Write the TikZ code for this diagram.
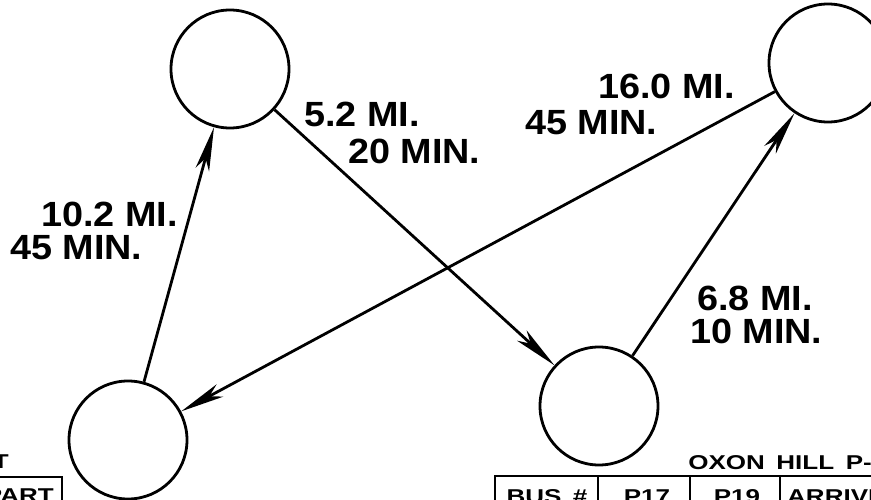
\documentclass[tikz,border=0pt]{standalone}
\usepackage{fontspec}
\setmainfont{Liberation Sans}
\newfontfamily\lblfont{Liberation Sans}[FakeStretch=1.08]
\newfontfamily\tblfont{Liberation Sans}[FakeStretch=1.3,WordSpace=1.6]
\usetikzlibrary{arrows.meta}
\begin{document}
\begin{tikzpicture}[x=1pt,y=-1pt,
  stopnode/.style={circle,draw,line width=2.8pt,minimum size=118pt,inner sep=0pt},
  edge/.style={line width=2.8pt,-{Stealth[length=44pt,width=14pt,inset=12pt]}},
  lbl/.style={font=\lblfont\bfseries\fontsize{35}{35}\selectfont,inner sep=0pt},
  tbltext/.style={font=\tblfont\bfseries\fontsize{20}{20}\selectfont,inner sep=0pt},
  tblline/.style={line width=2pt}]
\useasboundingbox (0,0) rectangle (871,500);
\clip (0,0) rectangle (871,500);
% stops
\node[stopnode] (tl) at (230,69) {};
\node[stopnode] (tr) at (828,63) {};
\node[stopnode] (bl) at (128,440) {};
\node[stopnode] (br) at (599,406) {};
% connectors
\draw[edge] (bl) -- (tl);
\draw[edge] (tl) -- (br);
\draw[edge] (tr) -- (bl);
\draw[edge] (br) -- (tr);
% labels
\node[lbl,anchor=base east] (a1) at (178,226) {10.2 MI.};
\node[lbl,anchor=base west] (a2) at (10,259) {45 MIN.};
\node[lbl,anchor=base west] (b1) at (304,127) {5.2 MI.};
\node[lbl,anchor=base west] (b2) at (348,164) {20 MIN.};
\node[lbl,anchor=base east] (c1) at (735,99) {16.0 MI.};
\node[lbl,anchor=base west] (c2) at (525,135) {45 MIN.};
\node[lbl,anchor=base west] (d1) at (697,310) {6.8 MI.};
\node[lbl,anchor=base west] (d2) at (690,343) {10 MIN.};
% bottom left fragment
\node[tbltext,anchor=base east] (lt) at (9,468) {T};
\draw[tblline] (-5,477) -- (62,477) -- (62,502);
\node[tbltext,anchor=base east] (lp) at (54,502) {PART};
% bottom right table
\node[tbltext,anchor=base east] (ox) at (872,469) {OXON HILL P-};
\draw[tblline] (495,502) -- (495,476) -- (875,476);
\draw[tblline] (598,476) -- (598,502);
\draw[tblline] (690,476) -- (690,502);
\draw[tblline] (780,476) -- (780,502);
\node[tbltext,anchor=base] (t1) at (547,503) {BUS \#};
\node[tbltext,anchor=base] (t2) at (647,503) {P17};
\node[tbltext,anchor=base] (t3) at (737,503) {P19};
\node[tbltext,anchor=base west] (t4) at (787,503) {ARRIVE};
\end{tikzpicture}
\end{document}
